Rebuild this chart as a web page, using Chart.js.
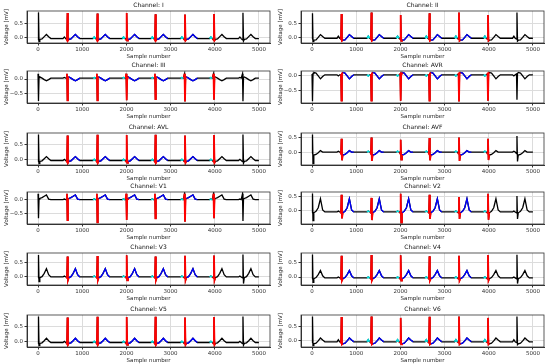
<!DOCTYPE html>
<html>
<head>
<meta charset="utf-8">
<script src="https://cdn.jsdelivr.net/npm/chart.js@4.4.0/dist/chart.umd.min.js"></script>
<style>
  body { margin: 0; background: #fff; width: 550px; height: 364px; position: relative; overflow: hidden; }
  canvas { position: absolute; }
</style>
</head>
<body>
<script>
// lead names, in plotting order (left column, right column, row by row)
const channels = ["I", "II", "III", "AVR", "AVL", "AVF", "V1", "V2", "V3", "V4", "V5", "V6"];

// R peak positions (sample number) of the 8 beats
const beatTimes = [10, 665, 1342, 2006, 2656, 3326, 3982, 4638];

// key points of one beat, in samples relative to the R peak
// P start, P peak, P end, QRS start, Q, spike tip, spike end, J, ST, T rise, T peak, T fall, T end
const beatOffsets = [-100, -70, -40, -25, -10, 0, 12, 30, 80, 130, 180, 230, 280];

// voltage (mV) at each key point per lead; the two spike slots come from spikeTip / spikeEnd
const waveShape = [
  [-0.03, 0.03, -0.03, -0.03, -0.08, null, null, -0.06, -0.04, 0.04, 0.12, 0.04, -0.03],  // I
  [-0.03, 0.04, -0.03, -0.03, -0.06, null, null, -0.10, -0.09, 0.00, 0.10, 0.03, -0.03],  // II
  [0.03, 0.05, 0.03, 0.03, 0.18, null, null, 0.07, 0.03, -0.02, -0.06, -0.02, 0.03],      // III
  [0.04, 0.00, 0.04, 0.04, 0.07, null, null, 0.12, 0.10, 0.00, -0.10, -0.02, 0.04],       // AVR
  [-0.02, 0.02, -0.02, -0.02, -0.06, null, null, -0.05, -0.03, 0.04, 0.11, 0.04, -0.02],  // AVL
  [0.00, 0.03, 0.00, 0.00, -0.05, null, null, -0.10, -0.08, -0.02, 0.05, 0.00, 0.00],     // AVF
  [-0.02, 0.00, -0.02, -0.02, 0.19, null, null, 0.02, 0.05, 0.10, 0.15, 0.00, -0.02],     // V1
  [-0.05, -0.02, -0.05, -0.05, -0.08, null, null, -0.08, -0.03, 0.10, 0.42, 0.02, -0.05], // V2
  [-0.03, 0.00, -0.03, -0.03, -0.06, null, null, -0.06, -0.02, 0.10, 0.27, 0.05, -0.03],  // V3
  [-0.03, 0.00, -0.03, -0.03, -0.06, null, null, -0.06, -0.02, 0.08, 0.22, 0.04, -0.03],  // V4
  [-0.02, 0.02, -0.02, -0.02, -0.06, null, null, -0.05, -0.03, 0.04, 0.12, 0.04, -0.02],  // V5
  [-0.03, 0.04, -0.03, -0.03, -0.06, null, null, -0.10, -0.08, 0.00, 0.10, 0.03, -0.03],  // V6
];

// spike tip (offset 0) per beat and per lead
const spikeTip = [
  [0.92, 0.90, 0.88, 0.90, 0.85, 0.84, 0.86, 0.91],
  [0.86, 0.83, 0.89, 0.80, 0.86, 0.89, 0.80, 0.89],
  [-0.74, -0.72, -0.72, -0.72, -0.68, -0.76, -0.70, -0.75],
  [-0.87, -0.85, -0.85, -0.85, -0.85, -0.88, -0.85, -0.82],
  [0.85, 0.82, 0.84, 0.83, 0.84, 0.82, 0.83, 0.85],
  [0.60, 0.45, 0.50, 0.42, 0.48, 0.50, 0.45, 0.55],
  [-0.68, -0.74, -0.82, -0.74, -0.68, -0.80, -0.68, -0.77],
  [0.61, 0.56, 0.45, 0.60, 0.56, 0.48, 0.60, 0.52],
  [0.76, 0.70, 0.72, 0.75, 0.70, 0.73, 0.74, 0.78],
  [0.76, 0.72, 0.74, 0.73, 0.70, 0.72, 0.74, 0.75],
  [0.85, 0.82, 0.84, 0.83, 0.84, 0.82, 0.83, 0.85],
  [0.85, 0.83, 0.85, 0.80, 0.84, 0.85, 0.80, 0.85],
];

// spike end (offset 12) per beat and per lead
const spikeEnd = [
  [-0.14, -0.10, -0.10, -0.10, -0.10, -0.10, -0.10, -0.12],
  [-0.15, -0.12, -0.12, -0.12, -0.12, -0.12, -0.12, -0.13],
  [0.05, 0.05, 0.05, 0.05, 0.05, 0.05, 0.05, 0.05],
  [0.08, 0.08, 0.08, 0.08, 0.08, 0.08, 0.08, 0.08],
  [-0.12, -0.10, -0.10, -0.10, -0.10, -0.10, -0.10, -0.11],
  [-0.39, -0.28, -0.30, -0.26, -0.28, -0.30, -0.27, -0.32],
  [0.00, 0.00, 0.00, 0.00, 0.00, 0.00, 0.00, 0.00],
  [-0.36, -0.28, -0.34, -0.43, -0.30, -0.30, -0.33, -0.30],
  [-0.20, -0.15, -0.15, -0.15, -0.15, -0.15, -0.15, -0.27],
  [-0.18, -0.12, -0.12, -0.12, -0.12, -0.12, -0.12, -0.22],
  [-0.12, -0.10, -0.10, -0.10, -0.10, -0.10, -0.10, -0.11],
  [-0.16, -0.12, -0.12, -0.12, -0.12, -0.12, -0.12, -0.13],
];

// y axis limits per lead
const yMin = [-0.19, -0.20, -0.81, -0.93, -0.17, -0.44, -0.88, -0.48, -0.32, -0.27, -0.17, -0.21];
const yMax = [0.97, 0.94, 0.27, 0.17, 0.90, 0.65, 0.25, 0.66, 0.83, 0.81, 0.90, 0.90];

// tick labels
const xTicks = [0, 1000, 2000, 3000, 4000, 5000];
const yTicks = [-0.5, 0, 0.5];

// which beats get the coloured annotation
const qrsBeats = [1, 2, 3, 4, 5, 6];   // red
const tBeats = [1, 2, 3, 4, 5];        // blue
const pBeats = [2, 3, 4, 5, 6];        // cyan

const rowTops = [0, 60, 122, 181, 242, 304];
const FONT = "'DejaVu Sans', sans-serif";

function pointAt(c, b, k) {
  if (k === 5) return spikeTip[c][b];
  if (k === 6) return spikeEnd[c][b];
  return waveShape[c][k];
}

function fullTrace(c) {
  const pts = [];
  beatTimes.forEach((t, b) => {
    beatOffsets.forEach((o, k) => {
      if (t + o < 0) return;
      pts.push({ x: t + o, y: pointAt(c, b, k) });
    });
  });
  pts.push({ x: 4999, y: waveShape[c][12] });
  return pts;
}

function partTrace(c, beats, from, to) {
  const pts = [];
  beats.forEach(b => {
    for (let k = from; k <= to; k++) {
      pts.push({ x: beatTimes[b] + beatOffsets[k], y: pointAt(c, b, k) });
    }
    pts.push({ x: beatTimes[b] + beatOffsets[to] + 1, y: null });
  });
  return pts;
}

const framePlugin = {
  id: "frame",
  afterDraw(chart, args, opts) {
    const { ctx, chartArea: a } = chart;
    ctx.save();
    ctx.strokeStyle = "#333";
    ctx.lineWidth = 0.8;
    ctx.strokeRect(a.left, a.top, a.right - a.left, a.bottom - a.top);
    ctx.fillStyle = "#111";
    ctx.font = "6px " + FONT;
    ctx.textAlign = "center";
    ctx.textBaseline = "middle";
    ctx.fillText(opts.text, (a.left + a.right) / 2, a.top - 6);
    ctx.restore();
  }
};

channels.forEach((name, c) => {
  const col = c % 2, row = Math.floor(c / 2);
  const cv = document.createElement("canvas");
  cv.width = 275; cv.height = 61;
  cv.style.left = (col * 274) + "px";
  cv.style.top = rowTops[row] + "px";
  document.body.appendChild(cv);

  const line = (data, color, width, order) => ({
    data, borderColor: color, borderWidth: width, pointRadius: 0,
    tension: 0, spanGaps: false, order
  });

  new Chart(cv.getContext("2d"), {
    type: "line",
    data: {
      datasets: [
        line(partTrace(c, pBeats, 0, 2), "#00dede", 1.6, 1),
        line(partTrace(c, qrsBeats, 3, 7), "#ff0000", 1.8, 1),
        line(partTrace(c, tBeats, 7, 12), "#0000ff", 1.3, 1),
        line(fullTrace(c), "#000000", 1.3, 2),
      ]
    },
    options: {
      animation: false, responsive: false, devicePixelRatio: 1,
      layout: { padding: { left: 0, right: 5, top: 11, bottom: 0 } },
      plugins: {
        legend: { display: false },
        tooltip: { enabled: false },
        frame: { text: "Channel: " + name }
      },
      scales: {
        x: {
          type: "linear", min: -250, max: 5250,
          afterBuildTicks(s) { s.ticks = xTicks.map(v => ({ value: v })); },
          ticks: { maxRotation: 0, autoSkip: false, padding: 1,
                   color: "#333", font: { family: FONT, size: 5.5 },
                   callback: v => String(v) },
          grid: { color: "#dcdcdc", tickColor: "#333", tickLength: 2.5 },
          border: { color: "#333" },
          title: { display: true, text: "Sample number", color: "#222",
                   font: { family: FONT, size: 5.5 }, padding: { top: 0, bottom: 1 } },
          afterFit(s) { s.height = 18; }
        },
        y: {
          min: yMin[c], max: yMax[c],
          afterBuildTicks(s) {
            s.ticks = yTicks.filter(v => v >= yMin[c] && v <= yMax[c]).map(v => ({ value: v }));
          },
          ticks: { padding: 1.5, color: "#333", autoSkip: false,
                   font: { family: FONT, size: 5.5 },
                   callback: v => (v < 0 ? "\u2212" : "") + Math.abs(v).toFixed(1) },
          grid: { color: "#dcdcdc", tickColor: "#333", tickLength: 2.5 },
          border: { color: "#333" },
          title: { display: true, text: "Voltage [mV]", color: "#222",
                   font: { family: FONT, size: 5.5 }, padding: { top: 3.5, bottom: 0 } },
          afterFit(s) { s.width = 27; }
        }
      }
    },
    plugins: [framePlugin]
  });
});
</script>
</body>
</html>
